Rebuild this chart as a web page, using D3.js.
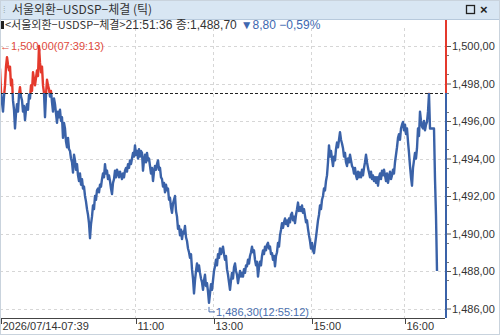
<!DOCTYPE html>
<html>
<head>
<meta charset="utf-8">
<script src="https://cdn.jsdelivr.net/npm/d3@7/dist/d3.min.js"></script>
<style>
  body { margin: 0; background: #fff; }
  svg { display: block; font-family: "Liberation Sans", Arial, "Noto Sans CJK KR", sans-serif; }
</style>
</head>
<body>
<svg id="chart" width="500" height="335"></svg>
<script>
// traded price per tick (tick no. 0..430, then 434..437)
const price = [
  1498.8,1497.55,1497.0,1496.5,1497.3,1497.9,1498.9,1499.4,1499.0,1498.7,
  1498.9,1497.9,1498.2,1497.1,1496.6,1495.6,1496.4,1496.9,1496.5,1497.4,
  1497.8,1497.3,1497.1,1496.5,1496.8,1496.05,1496.6,1496.9,1496.6,1497.4,
  1497.2,1497.9,1497.6,1498.6,1498.2,1497.9,1498.3,1498.7,1498.4,1500.0,
  1499.1,1498.6,1498.9,1497.9,1497.5,1496.2,1497.4,1498.2,1497.9,1497.7,
  1497.3,1497.6,1497.0,1496.5,1497.2,1496.9,1496.4,1495.9,1496.5,1496.2,
  1496.6,1496.0,1496.2,1495.1,1495.9,1495.6,1494.9,1494.6,1495.1,1494.5,
  1494.4,1494.0,1493.8,1493.25,1494.2,1493.9,1493.4,1493.7,1493.1,1492.8,
  1493.2,1492.6,1492.9,1492.4,1492.5,1492.0,1491.7,1491.3,1491.0,1490.55,
  1489.75,1490.5,1490.9,1491.5,1491.3,1492.0,1491.8,1492.3,1492.4,1492.2,
  1492.6,1492.5,1492.9,1493.2,1493.0,1493.7,1493.2,1493.35,1492.9,1493.1,
  1492.8,1492.4,1492.1,1492.7,1492.9,1493.35,1493.0,1493.4,1493.25,1493.0,
  1493.3,1493.1,1492.9,1493.2,1493.0,1493.35,1493.5,1493.3,1493.7,1493.5,
  1493.9,1493.7,1494.0,1494.3,1494.1,1494.7,1494.2,1494.4,1494.0,1494.5,
  1494.1,1494.4,1494.3,1493.35,1493.9,1494.2,1493.8,1494.3,1493.9,1494.0,
  1493.6,1493.2,1493.5,1492.8,1493.3,1493.6,1493.4,1493.7,1493.9,1493.4,
  1493.5,1493.0,1492.9,1492.5,1492.7,1492.2,1492.6,1492.3,1492.4,1491.8,
  1491.9,1491.4,1491.1,1491.6,1491.8,1492.0,1491.2,1490.9,1490.25,1490.4,
  1489.9,1490.2,1489.7,1490.1,1490.0,1490.4,1489.8,1489.6,1489.2,1489.0,
  1488.7,1488.9,1488.1,1487.6,1486.8,1487.5,1488.0,1488.4,1488.0,1488.3,
  1487.9,1487.6,1487.4,1487.0,1487.5,1487.8,1487.2,1487.35,1486.9,1486.3,
  1486.8,1487.3,1487.0,1487.5,1488.0,1488.25,1488.6,1488.3,1488.9,1488.7,
  1489.2,1488.9,1489.1,1489.3,1488.9,1488.6,1488.8,1488.1,1487.8,1487.4,
  1487.0,1487.5,1487.9,1487.6,1488.2,1488.4,1488.0,1487.8,1487.35,1487.7,
  1488.0,1487.7,1487.9,1487.7,1488.1,1487.9,1488.3,1488.25,1488.6,1488.4,
  1488.8,1489.0,1489.3,1489.0,1489.1,1488.6,1488.3,1488.5,1487.7,1488.2,
  1488.5,1488.3,1488.8,1489.1,1488.9,1489.3,1489.1,1489.4,1489.5,1489.2,
  1489.3,1488.9,1488.95,1488.6,1488.8,1488.25,1488.8,1489.0,1489.5,1489.3,
  1489.9,1490.2,1490.55,1490.3,1490.6,1490.8,1490.5,1490.7,1490.4,1490.8,
  1490.6,1491.0,1491.1,1490.7,1490.9,1490.55,1491.0,1491.3,1491.65,1491.2,
  1491.4,1491.2,1491.5,1491.1,1491.3,1490.95,1490.6,1490.7,1490.25,1489.9,
  1489.6,1489.2,1489.5,1489.1,1488.95,1489.4,1489.8,1490.25,1490.7,1491.0,
  1491.5,1491.3,1491.8,1492.0,1492.4,1492.3,1492.8,1493.1,1493.8,1494.7,
  1494.1,1494.4,1494.0,1493.6,1494.1,1493.9,1494.5,1494.85,1494.6,1495.0,
  1495.4,1495.0,1494.8,1494.55,1494.1,1494.3,1493.8,1493.6,1494.0,1493.8,
  1494.2,1493.9,1493.6,1493.5,1493.2,1493.5,1493.1,1492.9,1493.3,1493.0,
  1493.25,1493.0,1493.4,1493.1,1493.5,1493.8,1494.2,1493.8,1493.5,1493.25,
  1493.0,1493.3,1492.9,1493.1,1492.8,1493.0,1492.7,1493.0,1492.55,1493.0,
  1493.2,1492.9,1493.35,1493.1,1493.4,1493.1,1492.8,1493.2,1492.7,1493.0,
  1493.3,1492.9,1493.1,1493.4,1493.2,1493.8,1494.2,1494.6,1495.1,1495.3,
  1495.0,1495.6,1495.8,1495.95,1495.5,1495.8,1495.3,1495.6,1494.9,1494.3,
  1493.6,1493.0,1492.55,1493.5,1493.9,1494.3,1494.0,1494.55,1495.6,1495.2,
  1496.5,1496.0,1495.7,1495.6,1496.0,1495.5,1495.8,1495.95,1496.5,1497.45,
  1495.6,
  1495.6,1492.9,1490.95,1488.0
];
const tickNo = d3.range(0, 431).concat([434, 435, 436, 437]);

const prevClose = 1497.5;
const xTickNo = [0, 135, 213, 311, 404];
const xTickLabels = ["2026/07/14-07:39", "11:00", "13:00", "15:00", "16:00"];
const yTicks = [1486, 1488, 1490, 1492, 1494, 1496, 1498, 1500];
const titleText = "서울외환−USDSP−체결 (틱)";
const legendName = "<서울외환−USDSP−체결>";
const legendQuote = "21:51:36 종:1,488,70";
const changeText = "▼8,80  −0,59%";
const maxLabel = "←1,500,00(07:39:13)";
const minLabel = "1,486,30(12:55:12)";

const RED = "#e4392c", BLUE = "#3a62a8";
const svg = d3.select("#chart");
const W = 500, H = 335;
const plotR = 445, plotT = 20, plotB = 318;

const fmt = v => d3.format(",.2f")(v).replace(".", ",");

const x = d3.scaleLinear().domain([0, 445]).range([0, plotR]);
const y = d3.scaleLinear().domain([1486, 1500]).range([308.5, 46]);

// title bar
svg.append("rect").attr("x", 0).attr("y", 0).attr("width", W).attr("height", 19)
    .attr("fill", "#d8e6f3");
svg.append("line").attr("x1", 0).attr("x2", W).attr("y1", 19.5).attr("y2", 19.5)
    .attr("stroke", "#b7c9dc");
svg.append("text").attr("x", 3).attr("y", 13).attr("fill", "#9aa")
    .style("font-size", "9px").text("⁞");
svg.append("text").attr("x", 12).attr("y", 14).attr("fill", "#333")
    .style("font-family", "'Noto Sans CJK KR'").style("font-size", "12px").text(titleText);
svg.append("rect").attr("x", 466.5).attr("y", 5.5).attr("width", 8).attr("height", 8)
    .attr("fill", "none").attr("stroke", "#222").attr("stroke-width", 1.3);
svg.append("text").attr("x", 480).attr("y", 14).attr("fill", "#222")
    .style("font-size", "13px").style("font-weight", "bold").text("×");

// grid
const grid = svg.append("g");
grid.selectAll(".hg").data(yTicks).join("line")
    .attr("x1", 0).attr("x2", plotR)
    .attr("y1", d => Math.round(y(d)) + 0.5).attr("y2", d => Math.round(y(d)) + 0.5)
    .attr("stroke", "#d6d6d6").attr("stroke-dasharray", "3,3");
grid.selectAll(".vg").data(xTickNo).join("line")
    .attr("x1", d => Math.round(x(d)) + 0.5).attr("x2", d => Math.round(x(d)) + 0.5)
    .attr("y1", plotT + 8).attr("y2", plotB)
    .attr("stroke", "#d6d6d6").attr("stroke-dasharray", "3,3");

// legend line
svg.append("rect").attr("x", 1).attr("y", 21).attr("width", 3).attr("height", 8).attr("fill", "#222");
const lg = svg.append("text").attr("x", 5).attr("y", 29);
lg.append("tspan").attr("fill", "#333")
    .style("font-family", "'Noto Sans CJK KR'").style("font-size", "11px").text(legendName);
lg.append("tspan").attr("fill", "#333").style("font-size", "12px").text(legendQuote);
lg.append("tspan").attr("fill", "#4068b0").attr("dx", 4).style("font-size", "12px").text(changeText);

// clip regions for up/down colouring
const yRef = y(prevClose);
const defs = svg.append("defs");
defs.append("clipPath").attr("id", "above").append("rect")
    .attr("x", 0).attr("y", 0).attr("width", W).attr("height", yRef);
defs.append("clipPath").attr("id", "below").append("rect")
    .attr("x", 0).attr("y", yRef).attr("width", W).attr("height", H);

const line = d3.line().x((d, i) => x(tickNo[i])).y(d => y(d));

svg.append("path").datum(price).attr("d", line)
    .attr("fill", "none").attr("stroke", RED).attr("stroke-width", 2.4)
    .attr("stroke-linejoin", "round").attr("clip-path", "url(#above)");
svg.append("path").datum(price).attr("d", line)
    .attr("fill", "none").attr("stroke", BLUE).attr("stroke-width", 2.4)
    .attr("stroke-linejoin", "round").attr("clip-path", "url(#below)");

// previous close reference
svg.append("line").attr("x1", 0).attr("x2", plotR)
    .attr("y1", Math.round(yRef) + 0.5).attr("y2", Math.round(yRef) + 0.5)
    .attr("stroke", "#222").attr("stroke-dasharray", "3,2");

// right axis bar, coloured by side of previous close
svg.append("line").attr("x1", plotR + 1).attr("x2", plotR + 1).attr("y1", plotT).attr("y2", yRef)
    .attr("stroke", RED).attr("stroke-width", 2);
svg.append("line").attr("x1", plotR + 1).attr("x2", plotR + 1).attr("y1", yRef).attr("y2", plotB)
    .attr("stroke", BLUE).attr("stroke-width", 2);

// y axis
const yAxis = svg.append("g").attr("transform", `translate(${plotR + 2},0)`)
    .call(d3.axisRight(y).tickValues(yTicks).tickFormat(fmt).tickSize(4).tickPadding(1));
yAxis.select(".domain").remove();
yAxis.selectAll("line").attr("stroke", "#555");
yAxis.selectAll("text").attr("fill", "#333").style("font-size", "11px");
svg.append("g").selectAll("line").data(d3.range(1486.5, 1500.5, 1)).join("line")
    .attr("x1", plotR + 2).attr("x2", plotR + 4)
    .attr("y1", d => Math.round(y(d)) + 0.5).attr("y2", d => Math.round(y(d)) + 0.5)
    .attr("stroke", "#777");

// x axis
const xAxis = svg.append("g").attr("transform", `translate(0,${plotB})`)
    .call(d3.axisBottom(x).tickValues(xTickNo).tickFormat((d, i) => xTickLabels[i]).tickSize(6));
xAxis.select(".domain").attr("stroke", "#444").attr("d", `M0,0.5H${plotR}`);
xAxis.selectAll("line").attr("stroke", "#444").attr("transform", "translate(1,0)");
xAxis.selectAll("text").attr("fill", "#333").style("font-size", "11px")
    .attr("text-anchor", "start").attr("x", 2).attr("y", 4).attr("dy", "0.71em");

// high / low annotations
const iMax = d3.maxIndex(price), iMin = d3.minIndex(price);
svg.append("text").attr("x", 0).attr("y", y(price[iMax]) + 4)
    .attr("fill", "#e04a3c").style("font-size", "11px").text(maxLabel);
const lx = x(tickNo[iMin]), ly = y(price[iMin]);
svg.append("path").attr("d", `M${lx},${ly + 4}V${ly + 9}H${lx + 6}`)
    .attr("fill", "none").attr("stroke", "#4a6fb0");
svg.append("text").attr("x", lx + 7).attr("y", ly + 13)
    .attr("fill", "#4a6fb0").style("font-size", "11px").text(minLabel);

// window border
svg.append("rect").attr("x", 0.5).attr("y", 0.5).attr("width", W - 1).attr("height", H - 1)
    .attr("fill", "none").attr("stroke", "#c9d3dd");
</script>
</body>
</html>
